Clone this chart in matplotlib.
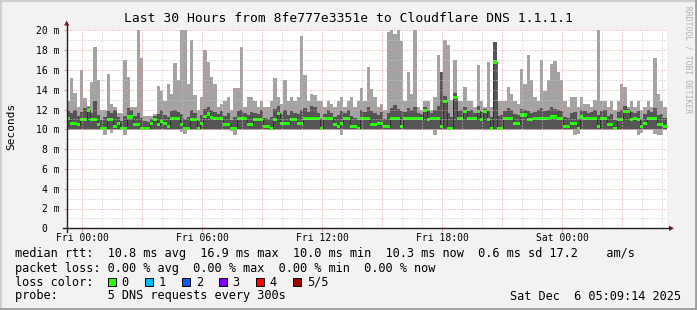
import numpy as np
import matplotlib.pyplot as plt
from matplotlib.patches import Polygon, Rectangle

plt.rcParams['font.family'] = ['DejaVu Sans Mono']

# ----------------------------
# data (ms), 10 minute steps, hours relative to Fri 00:00
# ----------------------------
start_h = -0.783
step_h = 1 / 6

# slowest of the 5 requests (top of light smoke)
rtt_max = [
    12.9, 15.2, 13.7, 12.3, 16.0, 13.2, 12.4, 14.8, 18.3, 15.0,
    11.9, 11.9, 15.6, 12.6, 12.3, 11.6, 11.6, 17.0, 15.3, 12.3,
    12.3, 20.1, 17.2, 11.3, 11.3, 11.3, 11.5, 14.4, 13.9, 12.9,
    14.6, 13.6, 16.7, 15.0, 20.2, 20.2, 14.6, 19.0, 13.5, 11.9,
    13.3, 18.0, 16.8, 15.3, 14.6, 12.3, 12.6, 12.9, 13.3, 11.9,
    14.2, 14.2, 18.3, 12.3, 13.3, 13.3, 12.9, 12.3, 12.9, 12.3,
    12.3, 12.9, 15.2, 13.3, 12.6, 15.0, 12.9, 13.3, 12.9, 13.3,
    19.4, 15.5, 12.9, 13.6, 13.5, 12.9, 12.9, 12.3, 12.9, 12.6,
    12.3, 12.9, 13.3, 12.3, 12.9, 13.3, 12.3, 12.9, 14.2, 12.9,
    16.3, 14.1, 13.3, 12.3, 12.6, 11.9, 19.8, 20.2, 19.6, 20.2,
    18.9, 12.9, 15.8, 13.6, 20.2, 12.3, 11.9, 12.9, 12.9, 11.9,
    13.3, 17.5, 15.8, 19.0, 18.5, 13.0, 17.0, 12.9, 12.9, 14.3,
    12.9, 12.9, 12.3, 16.5, 12.9, 12.3, 16.8, 12.3, 18.8, 12.9,
    12.9, 12.9, 14.3, 13.6, 12.9, 12.6, 16.1, 14.6, 17.5, 15.0,
    13.3, 12.9, 17.0, 13.9, 15.0, 16.6, 16.9, 15.8, 15.0, 12.9,
    12.3, 13.3, 13.3, 12.3, 13.3, 12.6, 12.6, 12.3, 13.0, 20.2,
    12.9, 12.9, 12.3, 12.9, 11.9, 12.9, 14.6, 14.3, 12.3, 12.9,
    12.3, 12.9, 11.9, 12.3, 12.9, 12.3, 17.2, 13.6, 12.9, 12.3,
]

# 4th of 5 (top of dark smoke)
rtt_p4 = [
    11.8, 11.6, 11.9, 11.3, 11.7, 12.2, 12.3, 11.6, 12.9, 11.4,
    10.9, 11.2, 11.8, 11.6, 11.9, 11.2, 10.8, 11.3, 12.2, 11.9,
    11.3, 11.6, 11.1, 10.8, 10.7, 11.0, 11.3, 11.5, 11.9, 11.4,
    11.2, 11.8, 12.0, 11.7, 11.5, 11.0, 11.2, 11.9, 11.6, 10.8,
    11.4, 12.1, 12.3, 11.9, 11.7, 11.5, 11.8, 11.3, 11.6, 10.9,
    11.2, 11.8, 12.0, 11.6, 11.4, 11.7, 11.6, 11.5, 11.9, 11.1,
    11.0, 11.2, 12.1, 12.4, 11.5, 11.9, 11.4, 11.8, 11.6, 11.5,
    12.0, 12.2, 11.7, 12.4, 12.3, 11.6, 11.0, 11.5, 11.9, 11.6,
    11.2, 11.4, 11.8, 11.6, 11.9, 11.3, 11.1, 10.9, 12.0, 11.7,
    12.3, 11.8, 11.6, 11.4, 11.7, 11.0, 11.6, 12.2, 12.5, 12.1,
    11.8, 11.7, 12.2, 11.9, 12.3, 11.6, 11.5, 12.3, 11.8, 11.6,
    11.9, 12.4, 15.8, 13.4, 11.6, 11.2, 13.7, 11.8, 11.9, 12.3,
    11.8, 11.9, 11.6, 12.4, 11.7, 12.1, 11.8, 11.2, 18.8, 11.3,
    11.4, 11.8, 12.2, 11.9, 11.5, 11.4, 12.1, 12.0, 11.8, 11.6,
    11.7, 11.9, 12.2, 11.8, 12.0, 12.3, 12.1, 11.9, 11.8, 11.2,
    11.1, 11.6, 11.7, 11.0, 12.0, 11.8, 11.6, 11.7, 11.9, 11.4,
    11.8, 11.9, 11.3, 11.5, 10.9, 11.7, 12.0, 12.4, 12.1, 11.7,
    11.6, 11.8, 11.0, 11.5, 11.9, 11.7, 12.2, 11.4, 11.5, 11.1,
]

# median of 5
rtt_median = [
    11.1, 10.6, 10.6, 10.45, 11.0, 11.0, 11.95, 10.95, 10.95, 10.45,
    10.1, 10.1, 10.95, 10.95, 10.25, 10.6, 10.1, 10.1, 11.25, 11.25,
    10.45, 10.45, 10.1, 10.1, 10.1, 10.6, 10.95, 10.45, 10.75, 10.6,
    10.25, 11.05, 11.05, 11.05, 10.45, 10.1, 10.1, 10.95, 10.95, 10.1,
    10.6, 11.3, 11.55, 11.2, 11.05, 11.05, 11.05, 10.45, 10.45, 10.1,
    10.1, 11.05, 11.05, 11.05, 10.45, 10.45, 10.95, 10.95, 10.95, 10.25,
    10.25, 10.1, 10.95, 11.6, 10.6, 10.6, 10.6, 10.95, 10.95, 10.6,
    10.6, 11.05, 11.05, 11.05, 11.05, 11.05, 10.1, 11.05, 11.05, 11.05,
    10.45, 10.25, 10.6, 11.05, 11.05, 10.25, 10.25, 10.1, 11.05, 11.05,
    11.05, 10.45, 10.45, 10.6, 10.6, 10.25, 10.25, 11.05, 11.05, 11.05,
    10.25, 11.05, 11.05, 11.05, 11.05, 11.05, 11.05, 11.9, 10.95, 11.05,
    11.05, 11.05, 10.25, 12.8, 10.1, 10.1, 13.2, 11.1, 11.1, 11.8,
    11.05, 11.05, 11.05, 11.8, 10.95, 11.8, 10.95, 10.1, 16.8, 10.1,
    10.1, 11.05, 11.05, 11.05, 10.6, 10.6, 11.45, 11.45, 10.95, 10.95,
    11.05, 11.05, 11.05, 11.05, 11.05, 11.25, 11.25, 11.05, 11.05, 10.25,
    10.25, 10.6, 10.6, 10.1, 11.25, 11.05, 11.05, 11.05, 11.05, 10.25,
    11.05, 11.05, 10.45, 10.45, 10.1, 10.95, 10.95, 11.8, 11.8, 10.95,
    11.05, 10.95, 10.25, 10.6, 11.05, 11.05, 11.05, 10.45, 10.45, 10.25,
]

# fastest of 5 (bottom of light smoke)
rtt_min = [
    9.95, 9.9, 9.95, 9.95, 9.9, 9.95, 9.95, 9.9, 9.95, 9.95,
    9.9, 9.4, 9.95, 9.6, 9.95, 9.9, 9.95, 9.45, 9.95, 9.9,
    9.95, 9.95, 9.9, 9.95, 9.95, 9.9, 9.95, 9.95, 9.9, 9.95,
    9.95, 9.9, 9.95, 9.95, 9.7, 9.5, 9.95, 9.9, 9.95, 9.95,
    9.9, 9.95, 9.95, 9.9, 9.95, 9.95, 9.9, 9.95, 9.95, 9.8,
    9.45, 9.95, 9.9, 9.95, 9.95, 9.9, 9.95, 9.95, 9.9, 9.95,
    9.95, 9.9, 9.95, 9.95, 9.9, 9.95, 9.95, 9.9, 9.95, 9.95,
    9.9, 9.95, 9.95, 9.9, 9.95, 9.95, 9.9, 9.95, 9.95, 9.9,
    9.95, 9.95, 9.45, 9.9, 9.95, 9.95, 9.9, 9.95, 9.95, 9.9,
    9.95, 9.95, 9.9, 9.95, 9.95, 9.9, 9.95, 9.95, 9.9, 9.95,
    9.95, 9.9, 9.95, 9.95, 9.9, 9.95, 9.95, 9.9, 9.95, 9.95,
    9.45, 9.95, 9.9, 9.95, 9.95, 9.9, 9.95, 9.95, 9.9, 9.95,
    9.95, 9.9, 9.95, 9.95, 9.9, 9.95, 9.95, 9.9, 9.95, 9.95,
    9.9, 9.95, 9.95, 9.9, 9.95, 9.95, 9.9, 9.95, 9.95, 9.9,
    9.95, 9.95, 9.9, 9.95, 9.95, 9.9, 9.95, 9.95, 9.9, 9.95,
    9.95, 9.9, 9.4, 9.5, 9.95, 9.9, 9.95, 9.95, 9.9, 9.95,
    9.95, 9.9, 9.95, 9.95, 9.9, 9.95, 9.95, 9.9, 9.95, 9.95,
    9.9, 9.45, 9.6, 9.95, 9.95, 9.9, 9.5, 9.4, 9.45, 9.9,
]

# 2nd of 5 (bottom of dark smoke), 30 minute steps
rtt_p2 = [
    10.0, 10.05, 10.0, 10.0, 10.05, 10.0, 10.0, 10.05, 10.0, 10.0,
    10.05, 10.0, 10.0, 10.05, 10.0, 10.0, 10.05, 10.0, 10.0, 10.05,
    10.0, 10.0, 10.05, 10.0, 10.0, 10.05, 10.0, 10.0, 10.05, 10.0,
    10.0, 10.05, 10.0, 10.0, 10.05, 10.0, 10.0, 10.05, 10.0, 10.0,
    10.05, 10.0, 10.0, 10.05, 10.0, 10.0, 10.05, 10.0, 10.0, 10.05,
    10.0, 10.0, 10.05, 10.0, 10.0, 10.05, 10.0, 10.0, 10.05, 10.0,
]

x_ticks = [0, 6, 12, 18, 24]
x_labels = ['Fri 00:00', 'Fri 06:00', 'Fri 12:00', 'Fri 18:00', 'Sat 00:00']
y_ticks = [0, 2, 4, 6, 8, 10, 12, 14, 16, 18, 20]
y_labels = ['0  ', '2 m', '4 m', '6 m', '8 m', '10 m', '12 m', '14 m', '16 m', '18 m', '20 m']

loss_labels = ['0', '1', '2', '3', '4', '5/5']
loss_colors = ['#26ff00', '#00b8ff', '#0059ff', '#7e00ff', '#ff0000', '#a10000']

title = 'Last 30 Hours from 8fe777e3351e to Cloudflare DNS 1.1.1.1'
line_rtt = 'median rtt:  10.8 ms avg  16.9 ms max  10.0 ms min  10.3 ms now  0.6 ms sd 17.2    am/s'
line_loss = 'packet loss: 0.00 % avg  0.00 % max  0.00 % min  0.00 % now'
line_probe = 'probe:       5 DNS requests every 300s'
stamp = 'Sat Dec  6 05:09:14 2025'

# ----------------------------
# figure
# ----------------------------
W, H = 697, 310
back = '#f2f2f2'
light = '#a3a3a3'
dark = '#555555'
grid_c = '#c4c4c4'
mgrid_c = '#eb9a9a'
arrow_c = '#801f1f'
axis_c = '#1f1f1f'

fig = plt.figure(figsize=(W / 100, H / 100), dpi=100, facecolor=back)
ax = fig.add_axes([66.7 / W, (H - 228.3) / H, 600 / W, 198 / H])
ax.set_facecolor('white')

edges = start_h + step_h * np.arange(len(rtt_max) + 1)
med = np.array(rtt_median)
ax.stairs(rtt_max, edges, baseline=rtt_min, fill=True, color=light, lw=0, zorder=1)
ax.stairs(rtt_p4, edges, baseline=np.repeat(rtt_p2, 3), fill=True, color=dark, lw=0, zorder=2)
ax.stairs(med, edges, color='#202020', lw=0.5, zorder=3)
ax.stairs(med + 0.16, edges, baseline=med - 0.16, fill=True, color=loss_colors[0], lw=0, zorder=4)

# grid drawn over the graph, like rrdtool
for h in range(0, 30):
    c = mgrid_c if h % 3 == 0 else grid_c
    ax.axvline(h, color=c, lw=0.72, ls=(0, (1, 2)), zorder=5)
for v in range(1, 21):
    c = mgrid_c if v % 2 == 0 else grid_c
    ax.axhline(v, color=c, lw=0.72, ls=(0, (1, 2)), zorder=5)

ax.set_xlim(start_h, start_h + 30)
ax.set_ylim(0, 20)
for s in ax.spines.values():
    s.set_visible(False)
ax.set_xticks(x_ticks)
ax.set_xticklabels(x_labels, fontsize=7)
ax.set_yticks(y_ticks)
ax.set_yticklabels(y_labels, fontsize=7)
ax.tick_params(axis='x', length=2, width=0.8, color=mgrid_c, pad=1.2)
ax.tick_params(axis='y', length=2, width=0.8, color=mgrid_c, pad=3.0)

# overlay in pixel units for frame, axes arrows and legend
ov = fig.add_axes([0, 0, 1, 1], zorder=10)
ov.set_xlim(0, W)
ov.set_ylim(H, 0)
ov.axis('off')

ov.plot([0, W], [1, 1], color='#cfcfcf', lw=1.5)
ov.plot([1, 1], [0, H], color='#cfcfcf', lw=1.5)
ov.plot([0, W], [H - 1.2, H - 1.2], color='#9e9e9e', lw=2)
ov.plot([W - 1.2, W - 1.2], [0, H], color='#9e9e9e', lw=2)

ov.plot([62.7, 670], [228.3, 228.3], color=axis_c, lw=1)
ov.plot([66.7, 66.7], [231.5, 25], color=axis_c, lw=1)
ov.add_patch(Polygon([[669, 225.6], [669, 231], [674, 228.3]], closed=True, color=arrow_c, lw=0))
ov.add_patch(Polygon([[64, 25.5], [69.4, 25.5], [66.7, 20.5]], closed=True, color=arrow_c, lw=0))

ov.text(348, 19, title, fontsize=9.4, ha='center', va='center')
ov.text(11, 126.5, 'Seconds', fontsize=8, rotation=90, ha='center', va='center')
ov.text(688, 60, 'RRDTOOL / TOBI OETIKER', fontsize=5.8, rotation=270,
        ha='center', va='center', color='#b0b0b0')

lx = 14.6
ov.text(lx, 254, line_rtt, fontsize=8.55, ha='left', va='center')
ov.text(lx, 268.3, line_loss, fontsize=8.55, ha='left', va='center')
ov.text(lx, 282.3, 'loss color:', fontsize=8.55, ha='left', va='center')
ov.text(lx, 296, line_probe, fontsize=8.55, ha='left', va='center')
ov.text(680.5, 296, stamp, fontsize=8.55, ha='right', va='center')

for i, (lab, col) in enumerate(zip(loss_labels, loss_colors)):
    bx = 108 + 37.07 * i
    ov.add_patch(Rectangle((bx, 278.2), 8, 8, facecolor=col, edgecolor='black', lw=0.7))
    ov.text(bx + 13.5, 282.3, lab, fontsize=8.55, ha='left', va='center')

fig.savefig('out.png', dpi=100, facecolor=back)
